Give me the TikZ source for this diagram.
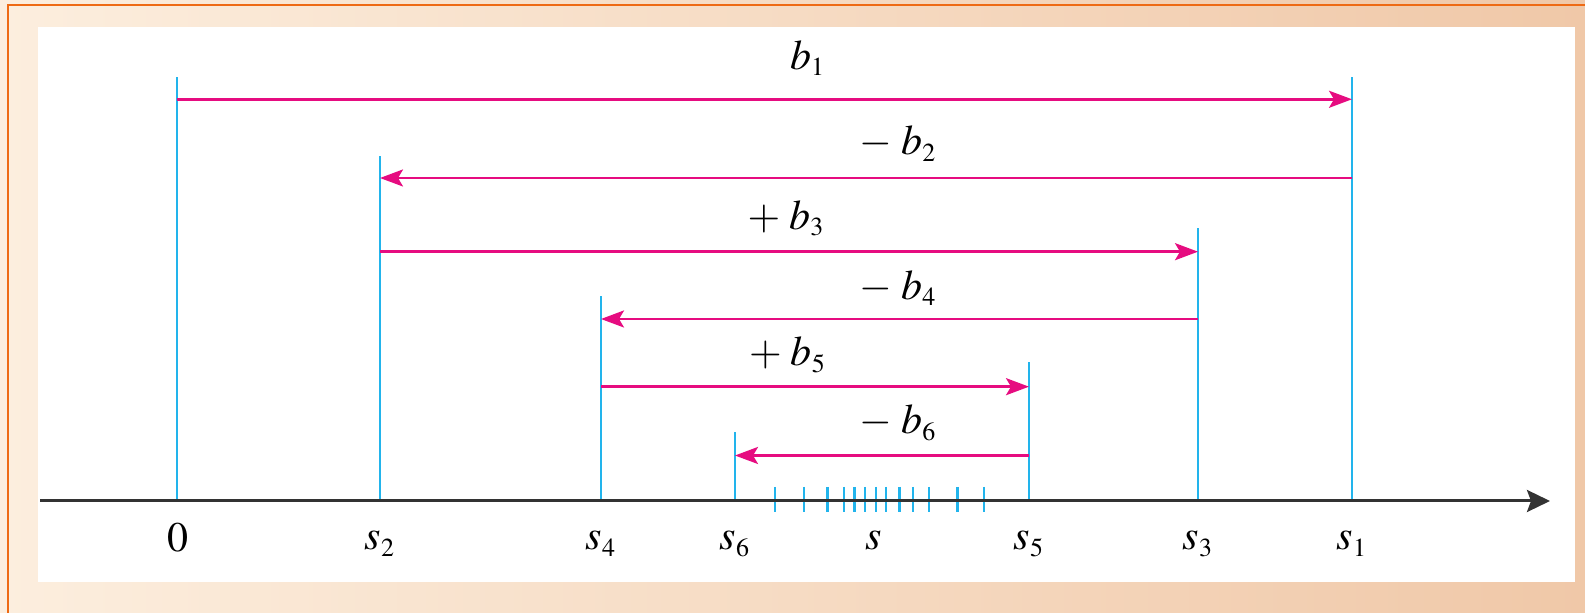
\documentclass[tikz,border=0pt]{standalone}
\usepackage{mathptmx}
\usepackage{tikz}
\usetikzlibrary{arrows.meta}
\usepackage{xcolor}
\DeclareMathSizes{21}{21}{13}{10}
\definecolor{sline}{RGB}{34,180,236}
\definecolor{barrow}{RGB}{230,12,128}
\definecolor{frameorange}{RGB}{238,106,20}
\definecolor{bgleft}{RGB}{252,238,222}
\definecolor{bgright}{RGB}{240,200,168}

\begin{document}
\begin{tikzpicture}[x=0.5pt,y=-0.5pt,>={Stealth[length=11.5pt,width=8.5pt,inset=2.5pt]},font=\fontsize{21}{25}\selectfont,
  sline/.style={draw=sline,line width=1.4pt},
  barrow/.style={draw=barrow,fill=barrow,line width=1.3pt,->},
  lab/.style={anchor=base,inner sep=0pt}]
\useasboundingbox (0,0) rectangle (1585,613);
\shade[left color=bgleft,right color=bgright] (0,0) rectangle (1585,613);
\draw[frameorange,line width=1.1pt] (8,613) -- (8,5) -- (1585,5);
\fill[white] (38,27) rectangle (1575,582);
% points on the axis and tops of the lines
\coordinate (o) at (177,501);    \coordinate (ot) at (177,77);
\coordinate (s1) at (1352,501);  \coordinate (s1t) at (1352,77);
\coordinate (s2) at (380,501);   \coordinate (s2t) at (380,156);
\coordinate (s3) at (1198,501);  \coordinate (s3t) at (1198,228);
\coordinate (s4) at (601,501);   \coordinate (s4t) at (601,296);
\coordinate (s5) at (1029,501);  \coordinate (s5t) at (1029,362);
\coordinate (s6) at (735,501);   \coordinate (s6t) at (735,432);
% rows of the arrows
\coordinate (r1) at (0,99.3);
\coordinate (r2) at (0,178);
\coordinate (r3) at (0,251.7);
\coordinate (r4) at (0,319);
\coordinate (r5) at (0,386.7);
\coordinate (r6) at (0,455.5);
\foreach \p in {o,s1,s2,s3,s4,s5,s6}
  \draw[sline] (\p) -- (\p t);
\foreach \t in {775,804,827.3,844,854.3,865,875.7,886,899.3,912.7,928.7,957.3,984}
  \draw[draw=sline,line width=1.2pt] (\t,487) -- (\t,512);
% the axis
\coordinate (ax0) at (40,501);
\coordinate (ax1) at (1550,501);
\draw[black!80,line width=1.5pt,-{Stealth[length=11.5pt,width=11pt,inset=2pt]}] (ax0) -- (ax1);
% arrows b_k
\draw[barrow] (o |- r1) -- (s1 |- r1);
\draw[barrow] (s1 |- r2) -- (s2 |- r2);
\draw[barrow] (s2 |- r3) -- (s3 |- r3);
\draw[barrow] (s3 |- r4) -- (s4 |- r4);
\draw[barrow] (s4 |- r5) -- (s5 |- r5);
\draw[barrow] (s5 |- r6) -- (s6 |- r6);
\node[lab] (lb1) at (807.5,69.3) {$b_1$};
\node[lab] (lb2) at (898,155) {$-\;b_2$};
\node[lab] (lb3) at (786,229.3) {$+\;b_3$};
\node[lab] (lb4) at (898,299.3) {$-\;b_4$};
\node[lab] (lb5) at (787.5,366) {$+\;b_5$};
\node[lab] (lb6) at (898,434) {$-\;b_6$};
% labels under the axis
\node[lab] (l0) at (178,552) {$0$};
\node[lab] (ls2) at (380,550) {$s_2$};
\node[lab] (ls4) at (601,550) {$s_4$};
\node[lab] (ls6) at (735,550) {$s_6$};
\node[lab] (ls) at (874,550) {$s$};
\node[lab] (ls5) at (1029,550) {$s_5$};
\node[lab] (ls3) at (1198,550) {$s_3$};
\node[lab] (ls1) at (1352,550) {$s_1$};
\end{tikzpicture}
\end{document}
